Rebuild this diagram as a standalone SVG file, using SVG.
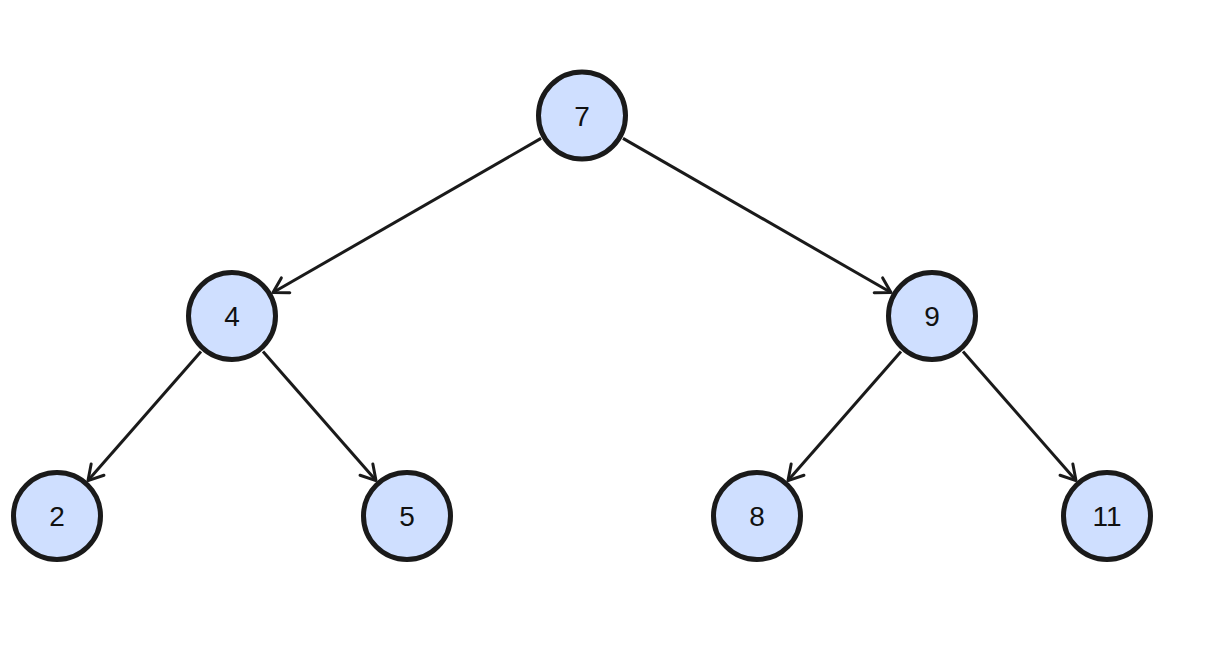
<svg xmlns="http://www.w3.org/2000/svg" width="1208" height="645" viewBox="0 0 1208 645">
<style>
.node circle{fill:#cfdfff;stroke:#1a1a1a;stroke-width:5}
.node text{font-family:"Liberation Sans",Arial,sans-serif;font-size:28px;fill:#111;text-anchor:middle;dominant-baseline:central}
.edges line{stroke:#1a1a1a;stroke-width:3;fill:none}
</style>
<defs>
<marker id="arr" markerUnits="userSpaceOnUse" markerWidth="22" markerHeight="22" viewBox="-18 -11 20 22" refX="0" refY="0" orient="auto">
<path d="M-14.5,-8.5 L0,0 L-14.5,8.5" fill="none" stroke="#1a1a1a" stroke-width="3" stroke-linecap="round" stroke-linejoin="round"/>
</marker>
</defs>
<rect width="1208" height="645" fill="#fff"/>
<g class="edges">
<line x1="541" y1="138.4" x2="273" y2="292.5" marker-end="url(#arr)"/>
<line x1="623" y1="138.4" x2="891" y2="292.5" marker-end="url(#arr)"/>
<line x1="201" y1="351.4" x2="88" y2="480.6" marker-end="url(#arr)"/>
<line x1="263" y1="351.4" x2="376" y2="480.6" marker-end="url(#arr)"/>
<line x1="901" y1="351.4" x2="788" y2="480.6" marker-end="url(#arr)"/>
<line x1="963" y1="351.4" x2="1076" y2="480.6" marker-end="url(#arr)"/>
</g>
<g id="n7" class="node"><circle cx="582" cy="115.5" r="43.5"/><text x="582" y="116">7</text></g>
<g id="n4" class="node"><circle cx="232" cy="316" r="43.5"/><text x="232" y="316">4</text></g>
<g id="n9" class="node"><circle cx="932" cy="316" r="43.5"/><text x="932" y="316">9</text></g>
<g id="n2" class="node"><circle cx="57" cy="516" r="43.5"/><text x="57" y="516">2</text></g>
<g id="n5" class="node"><circle cx="407" cy="516" r="43.5"/><text x="407" y="516">5</text></g>
<g id="n8" class="node"><circle cx="757" cy="516" r="43.5"/><text x="757" y="516">8</text></g>
<g id="n11" class="node"><circle cx="1107" cy="516" r="43.5"/><text x="1107" y="516">11</text></g>
</svg>
